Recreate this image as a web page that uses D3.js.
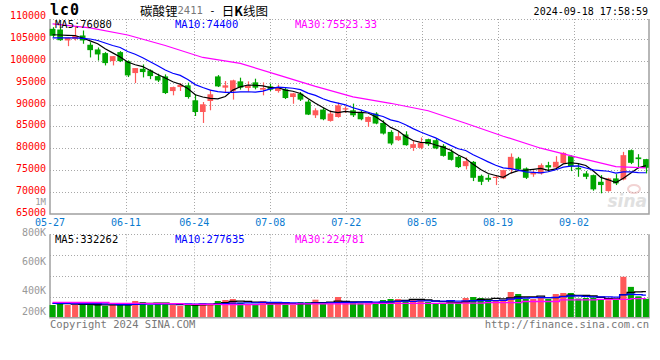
<!DOCTYPE html>
<html><head><meta charset="utf-8">
<script src="https://cdn.jsdelivr.net/npm/d3@7"></script>
<style>body{margin:0;background:#fff}svg{display:block}</style>
</head><body><svg id="c" width="660" height="360"></svg>
<script>
// ---------- DATA ----------
const opens  = [107300,107140,104640,105000,105780,103660,102590,101750,99920,101980,
  99920,97190,98170,97800,96500,96430,93080,94000,94390,90970,
  88300,90810,96430,93860,93070,95300,93780,95070,93400,94150,
  93090,93470,91720,92490,90670,87550,88850,86260,87160,88920,
  88690,88300,86030,87940,85800,83750,81860,83160,80100,80100,
  82090,81860,80560,79190,78050,75930,76910,73720,73270,73270,
  73130,75180,77690,75410,74040,74270,76160,75640,76620,78210,
  75550,74270,73880,72360,70240,73130,72900,79580,77920,77530];
const highs  = [107670,107600,105300,107940,106920,104250,103040,101980,101060,102200,
  100100,98330,99170,98030,97050,96890,94100,94910,95000,92340,
  90580,93410,96730,95370,95680,96140,95300,95910,95070,94770,
  94540,93860,92670,92860,91130,89150,89220,88690,90450,89600,
  90220,88690,87300,88240,86410,84140,83900,83900,81860,82470,
  82200,82240,80950,79800,78300,77920,77100,74000,74040,73880,
  75100,78830,78050,75640,74950,76550,76920,78210,79100,78400,
  76550,74800,74000,73880,73270,74110,79190,79740,78670,77600];
const lows   = [105320,104560,103340,104640,103880,100760,100060,98940,98940,99700,
  96280,94910,96200,95800,95140,92400,92110,93090,91350,87390,
  85800,88690,94000,92800,91130,93410,92950,93470,92110,93100,
  92720,91260,90180,90810,87600,86940,86410,86100,87000,88080,
  87160,86400,84900,85500,83150,80720,81700,80600,79420,79800,
  80560,79800,78100,77200,75500,75180,72520,71610,72360,71610,
  72970,74270,75000,73000,73500,74000,74640,75500,76500,74800,
  73500,72970,70310,69720,70080,71610,72700,76400,75410,74270];
const closes = [105700,104700,105250,105660,104640,102430,101450,99470,101060,99920,
  96660,98330,97420,96500,95500,92630,93990,94540,91720,88300,
  90060,92340,94150,94390,95530,93860,94390,93860,93780,93400,
  94000,91490,92560,91130,87710,88690,86640,87940,89830,89150,
  87550,86640,87160,85660,83380,81100,82770,80720,80950,81240,
  80950,79970,78280,77370,75710,77070,73270,72360,72810,73500,
  75020,78050,75180,73270,74500,76160,75640,76920,78960,75870,
  75180,73500,70630,71610,73130,71990,78440,76690,77530,75560];
const volumes = [126,152,126,126,142,126,131,111,126,146,
  131,188,172,126,152,142,126,111,126,126,
  152,152,188,203,218,162,142,126,188,142,
  142,131,126,172,172,208,142,152,249,152,
  172,152,152,142,203,218,218,203,218,203,
  172,142,152,188,152,234,249,234,218,203,
  203,326,295,218,218,249,218,295,311,311,
  225,235,240,215,200,215,560,405,260,221].map(v => v * 1000);
// moving-average values read off the picture where earlier data is not shown
const ma5Head  = [105940,105890,105820,105780];
const ma10Head = [105210,105210,105210,105210,105100,104980,104640,104070,103500];
const ma30Idx  = [0,5,10,15,20,25,30,35,40,45,50,55,60,65,70,75,79];
const ma30Val  = [108440,107500,105890,103500,100760,99400,96780,94160,91770,90290,88580,85730,82770,80030,77870,75820,75523];
const vma5Head  = [150000,148000,146000,140000];
const vma10Head = [150000,150000,150000,149000,148000,147000,146000,145000,143000];
const vma30Val  = [168000,165000,150000,146000,135000,131000,140000,145000,142000,150000,152000,155000,163000,180000,205000,214000,224781];
const dateLabels = ["05-27","06-11","06-24","07-08","07-22","08-05","08-19","09-02"];
const dateIdx    = [0,10,19,29,39,49,59,69];
const priceTicks = [65000,70000,75000,80000,85000,90000,95000,100000,105000,110000];
const volTickLabels = ["800K","600K","400K","200K"];
const volTickVals   = [800000,600000,400000,200000];
const legendMain = ["MA5:76080","MA10:74400","MA30:75523.33"];
const legendVol  = ["MA5:332262","MA10:277635","MA30:224781"];

// ---------- DRAW ----------
const svg = d3.select("#c");
const MONO = "'DejaVu Sans Mono', 'Liberation Mono', monospace";
const RED = "#ff5a5a", GREEN = "#00a600", GRID = "#a8a8a8", AXIS = "#a0a0a0";
const L = 50, R = 649, TOP = 19, BOT = 214, VTOP = 234.3, VBOT = 317.7;

const xc = d3.scaleLinear().domain([0, 79]).range([52.6, 645.9]);
const xg = d3.scaleLinear().domain([0, 79]).range([50, 650]);
const y  = d3.scaleLinear().domain([65000, 110000]).range([214, 17]);
const vy = d3.scaleLinear().domain([0, 600000]).range([313.2, 274.2]);
const vGrid = d3.scaleLinear().domain([0, 4]).range([VBOT, VTOP]);
const vLab = d3.scaleLinear().domain([200000, 400000, 600000, 800000]).range([311, 290, 261, 232]);

const idx = d3.range(closes.length);
const isUp = i => closes[i] > opens[i];

// gridlines main
const g = svg.append("g");
priceTicks.filter(v => v > 65000 && v < 110000).forEach(v => {
  g.append("line").attr("x1", L).attr("x2", R).attr("y1", Math.round(y(v)) + .5).attr("y2", Math.round(y(v)) + .5)
    .attr("stroke", GRID).attr("stroke-dasharray", "1,2");
});
g.append("line").attr("x1", L).attr("x2", R).attr("y1", TOP + .5).attr("y2", TOP + .5).attr("stroke", GRID).attr("stroke-dasharray", "1,2");
dateIdx.slice(1).forEach(i => {
  const x = Math.round(xg(i)) + .5;
  g.append("line").attr("x1", x).attr("x2", x).attr("y1", TOP).attr("y2", BOT).attr("stroke", GRID).attr("stroke-dasharray", "1,2");
  g.append("line").attr("x1", x).attr("x2", x).attr("y1", VTOP).attr("y2", VBOT).attr("stroke", GRID).attr("stroke-dasharray", "1,2");
});
// volume gridlines
[1, 2, 3, 4].forEach(k => {
  const yy = Math.round(vGrid(k)) + .5;
  g.append("line").attr("x1", L).attr("x2", R).attr("y1", yy).attr("y2", yy).attr("stroke", GRID).attr("stroke-dasharray", "1,2");
});
// axes frames
const fr = svg.append("g").attr("stroke", AXIS).attr("stroke-width", 1.5).attr("fill", "none");
fr.append("path").attr("d", `M${L},${TOP}V${BOT}H${R}V${TOP}`);
fr.append("path").attr("d", `M${L},${VTOP}V${VBOT}H${R}V${VTOP}`);

// watermark
const wm = svg.append("g").attr("opacity", 0.55);
wm.append("text").attr("x", 647).attr("y", 207).attr("text-anchor", "end")
  .attr("font-family", "'DejaVu Sans', sans-serif").attr("font-style", "italic").attr("font-weight", "bold")
  .attr("font-size", 17).attr("fill", "#c8c8c8").text("sina");
wm.append("ellipse").attr("cx", 634).attr("cy", 189).attr("rx", 6).attr("ry", 4).attr("fill", "none").attr("stroke", "#e8b0b0").attr("stroke-width", 2);

// candles
const cw = 5.7;
const cg = svg.append("g");
idx.forEach(i => {
  const col = isUp(i) ? RED : GREEN;
  const x = xc(i);
  cg.append("line").attr("x1", Math.round(x) + .5).attr("x2", Math.round(x) + .5)
    .attr("y1", y(highs[i])).attr("y2", y(lows[i])).attr("stroke", col).attr("stroke-width", 1.2);
  const top = y(Math.max(opens[i], closes[i])), bot = y(Math.min(opens[i], closes[i]));
  cg.append("rect").attr("x", x - cw / 2).attr("y", top).attr("width", cw).attr("height", Math.max(1.2, bot - top)).attr("fill", col);
});

// MA lines
const ma = (n, head) => idx.map(i => i < n - 1 ? head[i] : d3.mean(closes.slice(i - n + 1, i + 1)));
const ma5 = ma(5, ma5Head), ma10 = ma(10, ma10Head);
const line = d3.line().x(d => d[0]).y(d => d[1]);
svg.append("path").attr("d", line(idx.map(i => [xc(i), y(ma5[i])]))).attr("fill", "none").attr("stroke", "#000").attr("stroke-width", 1.2);
svg.append("path").attr("d", line(idx.map(i => [xc(i), y(ma10[i])]))).attr("fill", "none").attr("stroke", "#0000ff").attr("stroke-width", 1.2);
svg.append("path").attr("d", line(ma30Idx.map((i, k) => [xc(i), y(ma30Val[k])]))).attr("fill", "none").attr("stroke", "#ff00ff").attr("stroke-width", 1.2);

// volume bars
idx.forEach(i => {
  const x = xc(i);
  svg.append("rect").attr("x", x - cw / 2 - 0.2).attr("y", vy(volumes[i])).attr("width", cw + 0.4)
    .attr("height", VBOT - 0.7 - vy(volumes[i])).attr("fill", isUp(i) ? RED : GREEN);
});
const vma = (n, head) => idx.map(i => i < n - 1 ? head[i] : d3.mean(volumes.slice(i - n + 1, i + 1)));
const vma5 = vma(5, vma5Head), vma10 = vma(10, vma10Head);
const stepLine = d3.line().x(d => d[0]).y(d => d[1]).curve(d3.curveStep);
svg.append("path").attr("d", stepLine(idx.map(i => [xc(i), vy(vma5[i])]))).attr("fill", "none").attr("stroke", "#000").attr("stroke-width", 1.3);
svg.append("path").attr("d", stepLine(idx.map(i => [xc(i), vy(vma10[i])]))).attr("fill", "none").attr("stroke", "#0000ff").attr("stroke-width", 1.3);
svg.append("path").attr("d", stepLine(ma30Idx.map((i, k) => [xc(i), vy(vma30Val[k])]))).attr("fill", "none").attr("stroke", "#ff00ff").attr("stroke-width", 1.3);

// text helpers
const txt = (x, yy, s, col, anchor = "start", size = 10, extra = {}) => {
  const t = svg.append("text").attr("x", x).attr("y", yy).attr("dominant-baseline", "central")
    .attr("text-anchor", anchor).attr("font-family", MONO).attr("font-size", size).attr("fill", col).text(s);
  Object.entries(extra).forEach(([k, v]) => t.attr(k, v));
  return t;
};
// price labels
priceTicks.forEach(v => txt(46, y(v) - 1.5, String(v), "#f00", "end", 10));
txt(46, 201.5, "1M", "#999", "end", 9);
// date labels
dateIdx.forEach((i, k) => txt(xg(i), 222, dateLabels[k], "#0a7ad0", "middle", 10));
// volume labels
volTickVals.forEach((v, k) => txt(46, vLab(v), volTickLabels[k], "#999", "end", 10));
// legends
const legCols = ["#000", "#0000ff", "#ff00ff"], legX = [55, 175, 295];
legendMain.forEach((s, k) => txt(legX[k], 24, s, legCols[k], "start", 10.5));
legendVol.forEach((s, k) => txt(legX[k], 238.5, s, legCols[k], "start", 10.5));
// title
txt(50, 10, "lc0", "#000", "start", 15, {"font-weight": "bold", "letter-spacing": "1"});
const tt = svg.append("text").attr("x", 140).attr("y", 9.5).attr("dominant-baseline", "central")
  .attr("font-family", "'Noto Sans CJK SC', sans-serif").attr("font-size", 12.5).attr("fill", "#000");
tt.append("tspan").text("碳酸锂");
tt.append("tspan").attr("font-family", MONO).attr("fill", "#777").attr("font-size", 10.5).text("2411");
tt.append("tspan").attr("font-family", MONO).attr("font-size", 10.5).text(" - ");
tt.append("tspan").text("日");
tt.append("tspan").attr("font-weight", "bold").text("K");
tt.append("tspan").text("线图");
txt(648, 11.5, "2024-09-18 17:58:59", "#000", "end", 10);
// footer
txt(50, 324, "Copyright 2024 SINA.COM", "#777", "start", 10.5);
txt(649, 324, "http://finance.sina.com.cn", "#777", "end", 10.5);
</script></body></html>
